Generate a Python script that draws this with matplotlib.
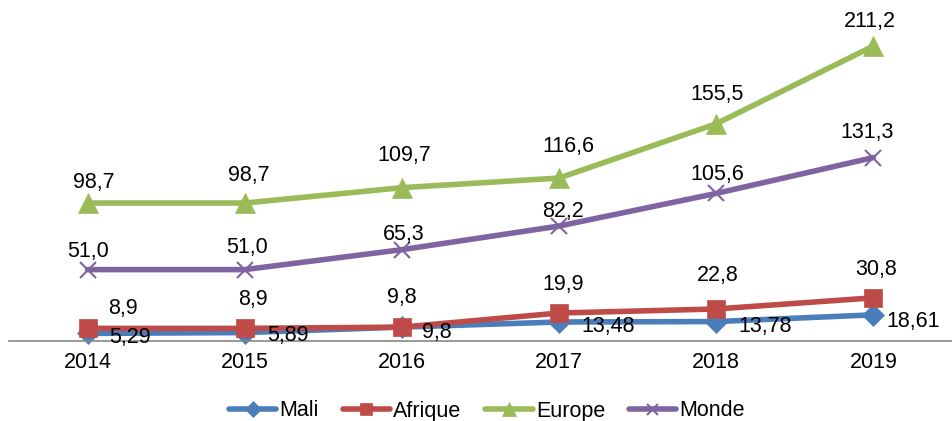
import matplotlib
matplotlib.use("Agg")
import matplotlib.pyplot as plt

years = ["2014", "2015", "2016", "2017", "2018", "2019"]
mali = [5.29, 5.89, 9.8, 13.48, 13.78, 18.61]
afrique = [8.9, 8.9, 9.8, 19.9, 22.8, 30.8]
europe = [98.7, 98.7, 109.7, 116.6, 155.5, 211.2]
monde = [51.0, 51.0, 65.3, 82.2, 105.6, 131.3]

plt.rcParams['font.family'] = ['Liberation Sans', 'DejaVu Sans']
FS = 15.5

W, H = 952, 421
fig = plt.figure(figsize=(W / 100, H / 100), dpi=100)
ax = fig.add_axes([9 / W, 80.2 / H, (952 - 9) / W, 335 / H])

x = list(range(len(years)))

series = [
    ("Mali", mali, "#4A7EBB", "D", 11,
     [(22, -4, 'left'), (22, -3, 'left'), (20, -5, 'left'), (22, -5, 'left'), (22, -5, 'left'), (13, -7, 'left')]),
    ("Afrique", afrique, "#BE4B48", "s", 12.5,
     [(35, 20, 'center'), (8, 29, 'center'), (0, 30, 'center'), (4, 29, 'center'), (1, 33, 'center'), (3, 28, 'center')]),
    ("Europe", europe, "#9BBB59", "^", 14,
     [(6, 21, 'center'), (4, 28, 'center'), (2, 32, 'center'), (9, 32, 'center'), (1, 29, 'center'), (-4, 25, 'center')]),
    ("Monde", monde, "#8064A2", "x", 11,
     [(0, 18, 'center'), (2, 22, 'center'), (2, 15, 'center'), (4, 15, 'center'), (1, 19, 'center'), (-6, 25, 'center')]),
]

for name, vals, col, mk, ms, offs in series:
    ax.plot(x, vals, color=col, lw=4, marker=mk, markersize=ms,
            markerfacecolor=col, markeredgecolor=col,
            markeredgewidth=1.5 if mk == "x" else 0.5,
            label=name, clip_on=False, solid_capstyle='round')
    for xi, v, (dx, dy, ha) in zip(x, vals, offs):
        ax.annotate(str(v).replace('.', ','), (xi, v), xytext=(dx, dy),
                    textcoords='offset pixels', ha=ha, va='center',
                    fontsize=FS, color='black')

ax.set_xlim(-0.5, len(years) - 0.5)
ax.set_ylim(0, 240)
ax.set_xticks(x)
ax.set_xticklabels(years, fontsize=FS)
ax.tick_params(axis='x', length=0, pad=8)
ax.set_yticks([])
for s in ['top', 'right', 'left']:
    ax.spines[s].set_visible(False)
ax.spines['bottom'].set_color('#868686')
ax.spines['bottom'].set_linewidth(1.2)

fig.legend(loc='center', bbox_to_anchor=(487 / W, 10 / H), ncol=4,
           frameon=False, fontsize=FS, handlelength=2.2, handletextpad=0.15,
           columnspacing=1.1, borderaxespad=0, borderpad=0, markerscale=0.72)

fig.savefig("out.png", dpi=100)
